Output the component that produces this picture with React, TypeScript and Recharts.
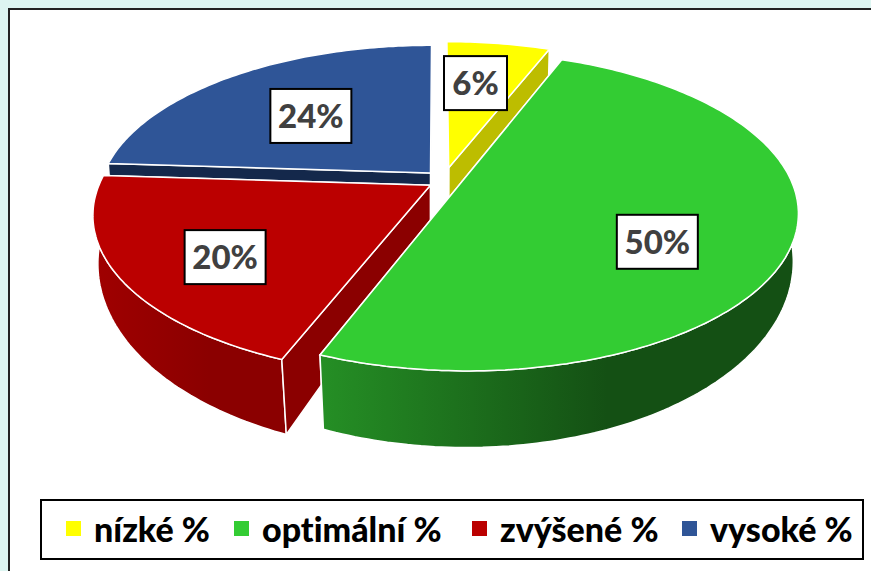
import { PieChart, Pie, Legend } from 'recharts';

const categories = ['nízké %', 'optimální %', 'zvýšené %', 'vysoké %'];
const values = [6, 50, 20, 24];
const percentLabels = ['6%', '50%', '20%', '24%'];

const chartData = categories.map((name, i) => ({ name, value: values[i] }));

// 3D look
const CX = 437;
const CY = 179;
const RX = 329;
const RY = 153;
const PERSPECTIVE = 0.183;
const FRONT_DEPTH = 76;
const SIDE_DEPTH = 45;
const SIDE_SCALE = 0.99;
const FRONT_SHRINK = 0.02;

const topColors = ['#FFFF00', '#33CC33', '#BB0000', '#2F5597'];
const sideColors = ['#BDBD00', '#1B6B1B', '#8B0000', '#14284B'];
const wallStops = [
  ['#BDBD00', '#BDBD00'],
  ['#258F25', '#145014'],
  ['#A00000', '#8B0000'],
  ['#14284B', '#14284B'],
];
// explosion of each slice in the pie plane
const explodeU = [0.036, 0.0744, -0.02, -0.02];
const explodeV = [0.074, -0.02, -0.04, 0.04];
const paintOrder = [0, 3, 2, 1];

const labelRadius = [0.62, 0.62, 0.62, 0.62];
const labelNudgeX = [-6, -4, -20, 8];
const labelNudgeY = [-3, 23, 17, 6];
const labelBoxWidth = [63, 81, 81, 81];

type Pt = { x: number; y: number; v: number };

function project(i: number, r: number, clockDeg: number): Pt {
  const a = (clockDeg * Math.PI) / 180;
  const u = explodeU[i] + r * Math.sin(a);
  const v = explodeV[i] + r * Math.cos(a);
  const w = 1 + PERSPECTIVE * v;
  return { x: CX + (RX * u) / w, y: CY - (RY * v) / w, v };
}

// the lower rim looks flatter than the upper one: less drop at the sides
function toBottom(p: Pt): Pt {
  const toward = Math.max(0, -p.v);
  const drop = SIDE_DEPTH + (FRONT_DEPTH - SIDE_DEPTH) * toward;
  const scale = SIDE_SCALE - FRONT_SHRINK * toward;
  return { x: CX + (p.x - CX) * scale, y: p.y + drop, v: p.v };
}

function toPath(points: Pt[]) {
  return points.map((p, k) => `${k ? 'L' : 'M'}${p.x.toFixed(1)},${p.y.toFixed(1)}`).join(' ') + ' Z';
}

function SliceShape(props: any, layer: number) {
  const i = categories.indexOf(props.name ?? props.payload?.name);
  if (i !== layer) return <g />;
  const start = 90 - props.startAngle;
  const end = 90 - props.endAngle;
  const arc: Pt[] = [];
  const front: Pt[] = [];
  const steps = Math.max(2, Math.ceil(end - start));
  for (let s = 0; s <= steps; s++) {
    const deg = start + ((end - start) * s) / steps;
    const p = project(i, 1, deg);
    arc.push(p);
    // only the part of the rim that faces the viewer gets a wall
    if (Math.cos((deg * Math.PI) / 180) < 0.05) front.push(p);
  }
  const apex = project(i, 0, start);
  const last = arc[arc.length - 1];
  const wallBottom = front.map(toBottom).reverse();
  const gradId = `wall-${i}`;
  return (
    <g>
      <defs>
        <linearGradient id={gradId} x1="0" y1="0" x2="1" y2="0">
          <stop offset="0%" stopColor={wallStops[i][0]} />
          <stop offset="60%" stopColor={wallStops[i][1]} />
          <stop offset="100%" stopColor={wallStops[i][1]} />
        </linearGradient>
      </defs>
      <path d={toPath([last, apex, toBottom(apex), toBottom(last)])} fill={sideColors[i]} stroke="#fff" strokeWidth={1.5} />
      {front.length > 1 && (
        <path d={toPath([...front, ...wallBottom])} fill={`url(#${gradId})`} stroke="#fff" strokeWidth={1.5} />
      )}
      <path d={toPath([apex, arc[0], toBottom(arc[0]), toBottom(apex)])} fill={sideColors[i]} stroke="#fff" strokeWidth={1.5} />
      <path d={toPath([apex, ...arc])} fill={topColors[i]} stroke="#fff" strokeWidth={1.5} />
    </g>
  );
}

function renderLabel(props: any) {
  const i = categories.indexOf(props.name ?? props.payload?.name);
  const p = project(i, labelRadius[i], 90 - props.midAngle);
  const x = p.x + labelNudgeX[i];
  const y = p.y + labelNudgeY[i];
  const w = labelBoxWidth[i];
  return (
    <g key={i}>
      <rect x={x - w / 2} y={y - 27} width={w} height={54} fill="#fff" stroke="#000" strokeWidth={2} />
      <text x={x} y={y + 12} textAnchor="middle" fontFamily="Lato" fontWeight={900} fontSize={33} fill="#404040">
        {percentLabels[i]}
      </text>
    </g>
  );
}

function LegendBox() {
  return (
    <div
      style={{
        width: 820,
        height: 57,
        border: '2px solid #000',
        background: '#fff',
        position: 'relative',
        fontFamily: 'Lato',
        fontWeight: 900,
        fontSize: 34,
        fontVariantLigatures: 'none',
        color: '#000',
      }}
    >
      {categories.map((name, i) => (
        <div key={name} style={{ position: 'absolute', left: [24, 192, 430, 640][i], top: 7, display: 'flex', alignItems: 'center', whiteSpace: 'nowrap' }}>
          <span style={{ width: 15, height: 15, background: topColors[i], marginRight: 13 }} />
          {name}
        </div>
      ))}
    </div>
  );
}

export default function App() {
  return (
    <div style={{ position: 'absolute', left: 0, top: 0, width: 871, height: 571, overflow: 'hidden', background: '#DDF5F1' }}>
      <div style={{ position: 'absolute', left: 8, top: 8, width: 863, height: 563, background: '#fff', borderLeft: '2px solid #222', borderTop: '2px solid #222', boxSizing: 'border-box' }} />
      <div style={{ position: 'absolute', left: 0, top: 0 }}>
        <PieChart width={871} height={571} margin={{ top: 0, right: 0, bottom: 0, left: 0 }}>
          {paintOrder.map((layer, n) => (
            <Pie
              key={layer}
              data={chartData}
              dataKey="value"
              nameKey="name"
              cx={CX}
              cy={CY}
              outerRadius={RX}
              startAngle={90}
              endAngle={-270}
              stroke="none"
              isAnimationActive={false}
              legendType={n === 0 ? 'square' : 'none'}
              shape={(props: any) => SliceShape(props, layer)}
              label={n === paintOrder.length - 1 ? renderLabel : false}
              labelLine={false}
            />
          ))}
          <Legend content={<LegendBox />} wrapperStyle={{ position: 'absolute', left: 40, top: 499, width: 824, height: 61 }} />
        </PieChart>
      </div>
    </div>
  );
}
